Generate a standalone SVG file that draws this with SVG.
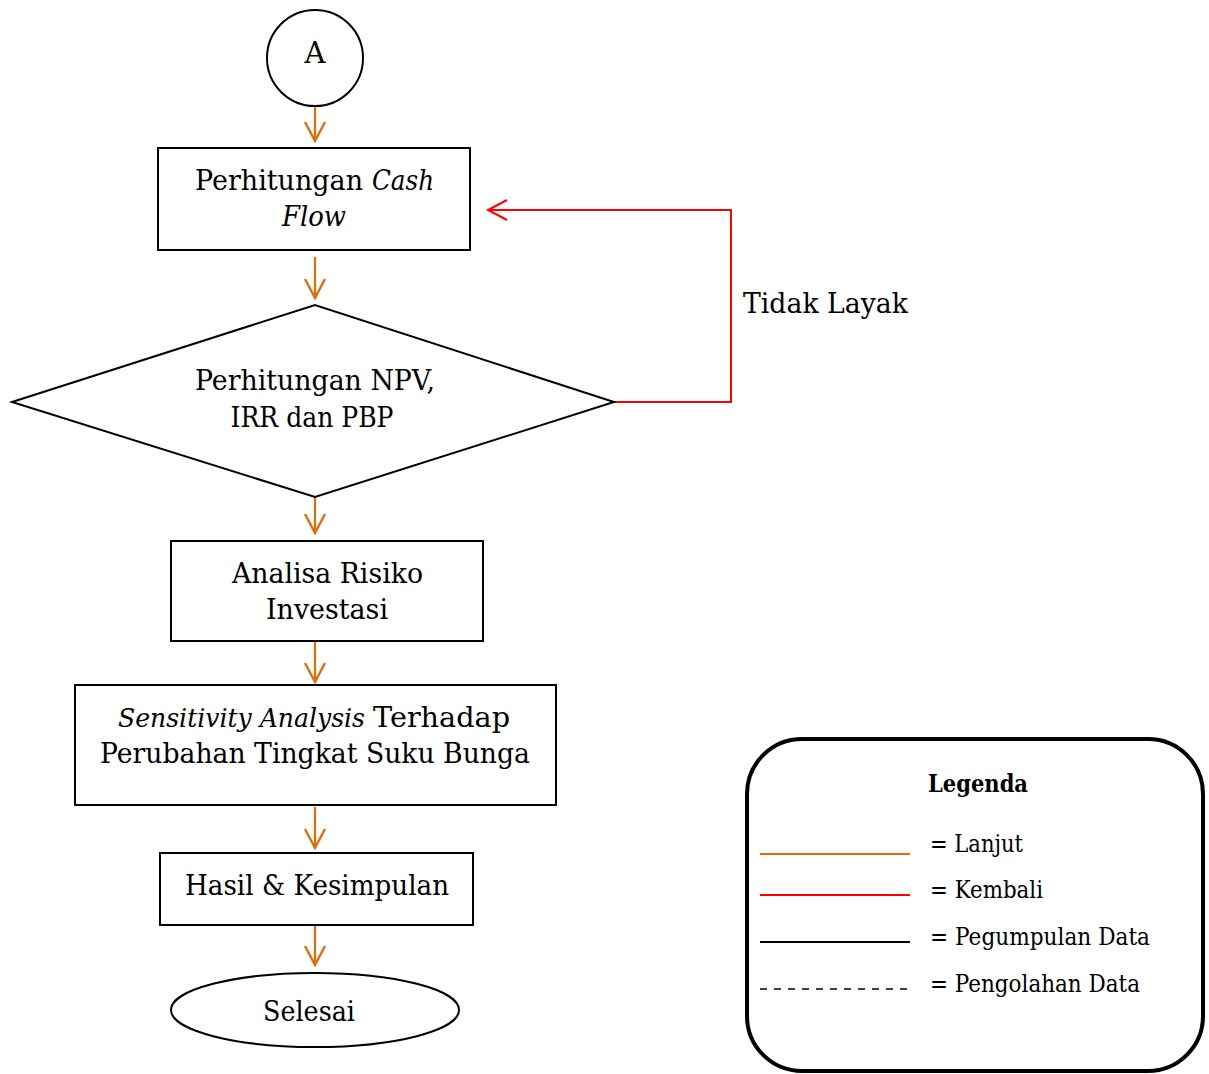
<svg xmlns="http://www.w3.org/2000/svg" width="1209" height="1074" viewBox="0 0 1209 1074">
<style>
.n{fill:#fff;stroke:#000;stroke-width:2}
.t{font-family:"DejaVu Serif","Liberation Serif",serif;font-size:27.5px;fill:#000;text-anchor:middle}
.s{text-anchor:start}
.i{font-style:italic}
.o{stroke:#E36C0A;stroke-width:2.2;fill:none}
.r{stroke:#FF0000;stroke-width:2;fill:none}
.lg{font-family:"DejaVu Serif","Liberation Serif",serif;font-size:24px;fill:#000}
</style>
<defs>
<marker id="ao" markerUnits="userSpaceOnUse" markerWidth="24" markerHeight="24" refX="20" refY="12" orient="auto" viewBox="0 0 24 24">
<path d="M1,2 L20,12 L1,22" fill="none" stroke="#E36C0A" stroke-width="2.4"/>
</marker>
<marker id="ar" markerUnits="userSpaceOnUse" markerWidth="24" markerHeight="24" refX="20" refY="12" orient="auto" viewBox="0 0 24 24">
<path d="M1,2 L20,12 L1,22" fill="none" stroke="#FF0000" stroke-width="2"/>
</marker>
</defs>
<rect width="1209" height="1074" fill="#fff"/>
<g id="connectors">
<line class="o" x1="315" y1="99" x2="315" y2="141" marker-end="url(#ao)"/>
<line class="o" x1="315" y1="257" x2="315" y2="298" marker-end="url(#ao)"/>
<line class="o" x1="315" y1="497" x2="315" y2="533" marker-end="url(#ao)"/>
<line class="o" x1="315" y1="641" x2="315" y2="682" marker-end="url(#ao)"/>
<line class="o" x1="315" y1="807" x2="315" y2="848" marker-end="url(#ao)"/>
<line class="o" x1="315" y1="925" x2="315" y2="965" marker-end="url(#ao)"/>
<polyline class="r" points="614,402 731,402 731,210 488,210" marker-end="url(#ar)"/>
<text class="t s" x="743" y="313" textLength="165" lengthAdjust="spacingAndGlyphs">Tidak Layak</text>
</g>
<g id="nodeA">
<circle class="n" cx="315" cy="58" r="48"/>
<text class="t" x="315" y="63" style="font-size:29px">A</text>
</g>
<g id="node1">
<rect class="n" x="158" y="148" width="312" height="102"/>
<text class="t s" x="195" y="190" textLength="168" lengthAdjust="spacingAndGlyphs">Perhitungan</text>
<text class="t s i" x="372" y="190" textLength="62" lengthAdjust="spacingAndGlyphs">Cash</text>
<text class="t i" x="314" y="226" textLength="64" lengthAdjust="spacingAndGlyphs">Flow</text>
</g>
<g id="node2">
<polygon class="n" points="12,402 315,305 614,402 315,497"/>
<text class="t" x="315" y="390" textLength="240" lengthAdjust="spacingAndGlyphs">Perhitungan NPV,</text>
<text class="t" x="312" y="427" textLength="163" lengthAdjust="spacingAndGlyphs">IRR dan PBP</text>
</g>
<g id="node3">
<rect class="n" x="171" y="541" width="312" height="100"/>
<text class="t" x="327.5" y="583" textLength="191" lengthAdjust="spacingAndGlyphs">Analisa Risiko</text>
<text class="t" x="327" y="619" textLength="122" lengthAdjust="spacingAndGlyphs">Investasi</text>
</g>
<g id="node4">
<rect class="n" x="75" y="685" width="481" height="120"/>
<text class="t s i" x="118" y="727" textLength="247" lengthAdjust="spacingAndGlyphs" style="font-size:26px">Sensitivity Analysis</text>
<text class="t s" x="373" y="727" textLength="137" lengthAdjust="spacingAndGlyphs">Terhadap</text>
<text class="t" x="315" y="763" textLength="430" lengthAdjust="spacingAndGlyphs">Perubahan Tingkat Suku Bunga</text>
</g>
<g id="node5">
<rect class="n" x="160" y="853" width="313" height="72"/>
<text class="t" x="317" y="895" textLength="264" lengthAdjust="spacingAndGlyphs">Hasil &amp; Kesimpulan</text>
</g>
<g id="node6">
<ellipse class="n" cx="315" cy="1010" rx="144" ry="37"/>
<text class="t" x="309" y="1021" textLength="92" lengthAdjust="spacingAndGlyphs">Selesai</text>
</g>
<g id="legend">
<rect x="747" y="739" width="456" height="332" rx="55" ry="55" fill="#fff" stroke="#000" stroke-width="4"/>
<text class="lg" x="978" y="792" textLength="100" lengthAdjust="spacingAndGlyphs" style="text-anchor:middle;font-weight:bold">Legenda</text>
<line x1="760" y1="854" x2="910" y2="854" stroke="#E36C0A" stroke-width="2"/>
<line x1="760" y1="895" x2="910" y2="895" stroke="#FF0000" stroke-width="2"/>
<line x1="760" y1="942" x2="910" y2="942" stroke="#000" stroke-width="2"/>
<line x1="760" y1="989" x2="910" y2="989" stroke="#000" stroke-width="1.5" stroke-dasharray="7,7"/>
<text class="lg" x="930" y="852" textLength="93" lengthAdjust="spacingAndGlyphs">= Lanjut</text>
<text class="lg" x="930" y="898" textLength="113" lengthAdjust="spacingAndGlyphs">= Kembali</text>
<text class="lg" x="930" y="945" textLength="220" lengthAdjust="spacingAndGlyphs">= Pegumpulan Data</text>
<text class="lg" x="930" y="992" textLength="210" lengthAdjust="spacingAndGlyphs">= Pengolahan Data</text>
</g>
</svg>
